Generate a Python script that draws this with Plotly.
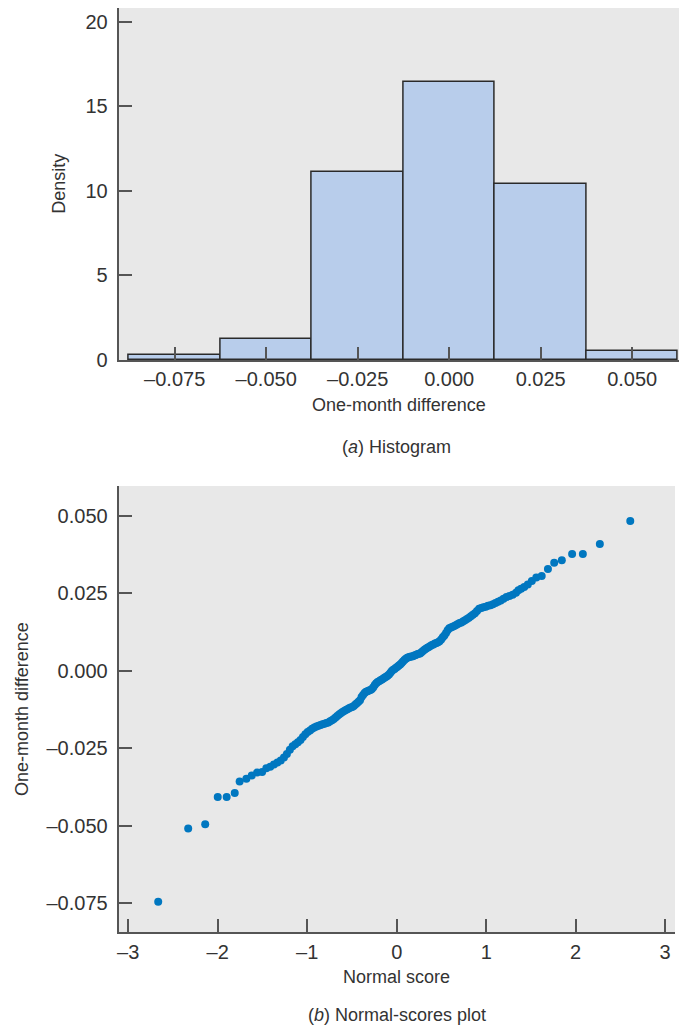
import plotly.graph_objects as go

# ---------------- data ----------------
# (a) histogram: bin centres, bin width and density heights
bin_centers = [-0.075, -0.050, -0.025, 0.000, 0.025, 0.050]
bin_width = 0.025
density = [0.27, 1.26, 11.08, 16.4, 10.4, 0.55]

hist_xtick_vals = [-0.075, -0.050, -0.025, 0.000, 0.025, 0.050]
hist_xtick_text = ["–0.075", "–0.050", "–0.025", "0.000", "0.025", "0.050"]
hist_ytick_vals = [0, 5, 10, 15, 20]

# (b) normal-scores plot: normal score (x) and sorted one-month difference (y)
normal_scores = [
    -2.665, -2.33, -2.14, -2.00, -1.90, -1.81, -1.755, -1.68, -1.62, -1.56,
    -1.504, -1.457, -1.413, -1.372, -1.333, -1.296, -1.260, -1.227, -1.194, -1.163,
    -1.133, -1.104, -1.075, -1.048, -1.021, -0.995, -0.969, -0.945, -0.921, -0.897,
    -0.874, -0.851, -0.829, -0.807, -0.785, -0.764, -0.744, -0.723, -0.703, -0.683,
    -0.664, -0.644, -0.625, -0.606, -0.587, -0.569, -0.551, -0.533, -0.515, -0.497,
    -0.479, -0.462, -0.445, -0.427, -0.410, -0.393, -0.376, -0.359, -0.343, -0.326,
    -0.310, -0.293, -0.277, -0.261, -0.245, -0.229, -0.213, -0.197, -0.181, -0.165,
    -0.149, -0.133, -0.118, -0.102, -0.086, -0.070, -0.055, -0.039, -0.024, -0.008,
    0.008, 0.024, 0.039, 0.055, 0.070, 0.086, 0.102, 0.118, 0.133, 0.149,
    0.165, 0.181, 0.197, 0.213, 0.229, 0.245, 0.261, 0.277, 0.293, 0.310,
    0.326, 0.343, 0.359, 0.376, 0.393, 0.410, 0.427, 0.445, 0.462, 0.479,
    0.497, 0.515, 0.533, 0.551, 0.569, 0.587, 0.606, 0.625, 0.644, 0.664,
    0.683, 0.703, 0.723, 0.744, 0.764, 0.785, 0.807, 0.829, 0.851, 0.874,
    0.897, 0.921, 0.945, 0.969, 0.995, 1.021, 1.048, 1.075, 1.104, 1.133,
    1.163, 1.194, 1.227, 1.260, 1.296, 1.333, 1.36, 1.39, 1.425, 1.465,
    1.51, 1.56, 1.62, 1.69, 1.76, 1.845, 1.96, 2.08, 2.27, 2.61,
]
differences = [
    -0.0746, -0.0510, -0.0496, -0.0408, -0.0408, -0.0395, -0.0358, -0.0349, -0.0338, -0.0329,
    -0.0327, -0.0315, -0.0310, -0.0303, -0.0296, -0.0290, -0.0280, -0.0269, -0.0255, -0.0244,
    -0.0237, -0.0231, -0.0224, -0.0214, -0.0205, -0.0198, -0.0193, -0.0187, -0.0183, -0.0180,
    -0.0178, -0.0175, -0.0173, -0.0171, -0.0169, -0.0167, -0.0163, -0.0160, -0.0156, -0.0151,
    -0.0146, -0.0141, -0.0137, -0.0133, -0.0130, -0.0127, -0.0124, -0.0121, -0.0119, -0.0117,
    -0.0114, -0.0109, -0.0105, -0.0100, -0.0095, -0.0085, -0.0078, -0.0072, -0.0068, -0.0066,
    -0.0064, -0.0062, -0.0059, -0.0053, -0.0046, -0.0040, -0.0036, -0.0034, -0.0031, -0.0028,
    -0.0025, -0.0022, -0.0019, -0.0016, -0.0012, -0.0006, -0.0001, 0.0003, 0.0006, 0.0010,
    0.0013, 0.0017, 0.0020, 0.0025, 0.0030, 0.0035, 0.0039, 0.0042, 0.0044, 0.0045,
    0.0046, 0.0047, 0.0049, 0.0051, 0.0053, 0.0055, 0.0056, 0.0060, 0.0064, 0.0068,
    0.0071, 0.0074, 0.0077, 0.0080, 0.0083, 0.0085, 0.0088, 0.0090, 0.0092, 0.0095,
    0.0101, 0.0108, 0.0114, 0.0122, 0.0131, 0.0137, 0.0140, 0.0142, 0.0145, 0.0148,
    0.0151, 0.0154, 0.0156, 0.0160, 0.0163, 0.0167, 0.0171, 0.0176, 0.0181, 0.0186,
    0.0193, 0.0200, 0.0203, 0.0205, 0.0207, 0.0210, 0.0212, 0.0215, 0.0219, 0.0223,
    0.0227, 0.0233, 0.0238, 0.0242, 0.0246, 0.0252, 0.0260, 0.0265, 0.0271, 0.0279,
    0.0290, 0.0301, 0.0306, 0.0329, 0.0349, 0.0357, 0.0377, 0.0377, 0.0410, 0.0484,
]

qq_xtick_vals = [-3, -2, -1, 0, 1, 2, 3]
qq_xtick_text = ["–3", "–2", "–1", "0", "1", "2", "3"]
qq_ytick_vals = [-0.075, -0.050, -0.025, 0.000, 0.025, 0.050]
qq_ytick_text = ["–0.075", "–0.050", "–0.025", "0.000", "0.025", "0.050"]

# ---------------- styling ----------------
FONT = "Liberation Sans, Arial, Helvetica, sans-serif"
TEXT = "#333333"
AXIS = "#555555"
BG = "#E8E8E8"

W, H = 681, 1037
REF_W, REF_H = 681, 1026


def px(x):
    return x / REF_W


def py(y):
    return 1 - y / REF_H


fig = go.Figure()
fig.add_trace(go.Bar(
    x=bin_centers, y=density, width=[bin_width] * len(bin_centers),
    marker=dict(color="#B8CDEB", line=dict(color="#2a2a2a", width=1.5)),
    xaxis="x", yaxis="y", showlegend=False,
))
fig.add_trace(go.Scatter(
    x=normal_scores, y=differences, mode="markers",
    marker=dict(color="#0077C0", size=8),
    xaxis="x2", yaxis="y2", showlegend=False,
))

common = dict(
    showline=True, linecolor=AXIS, linewidth=2,
    ticks="inside", ticklen=13, tickwidth=1.5, tickcolor=AXIS,
    showgrid=False, zeroline=False,
    tickfont=dict(family=FONT, size=20, color=TEXT),
)

fig.update_layout(
    width=W, height=H,
    margin=dict(l=0, r=0, t=0, b=0),
    paper_bgcolor="white", plot_bgcolor=BG,
    font=dict(family=FONT, size=18, color=TEXT),
    bargap=0,
    xaxis=dict(domain=[px(117), px(679)], range=[-0.0903, 0.0628], anchor="y",
               tickvals=hist_xtick_vals, ticktext=hist_xtick_text,
               ticklabelstandoff=0, **common),
    yaxis=dict(domain=[py(360), py(8)], range=[0, 20.8], anchor="x",
               tickvals=hist_ytick_vals, ticklabelstandoff=5, **common),
    xaxis2=dict(domain=[px(117), px(675)], range=[-3.107, 3.11], anchor="y2",
                tickvals=qq_xtick_vals, ticktext=qq_xtick_text,
                ticklabelstandoff=1, **common),
    yaxis2=dict(domain=[py(932), py(486)], range=[-0.0844, 0.0597], anchor="x2",
                tickvals=qq_ytick_vals, ticktext=qq_ytick_text,
                ticklabelstandoff=5, **common),
)


def label(text, x, y, angle=0):
    fig.add_annotation(text=text, x=px(x), y=py(y), xref="paper", yref="paper",
                       showarrow=False, textangle=angle, xanchor="center", yanchor="middle",
                       font=dict(family=FONT, size=18, color=TEXT))


label("One-month difference", 398, 405)
label("Density", 57, 184, -90)
label("(<i>a</i>) Histogram", 396, 447)
label("Normal score", 396, 977)
label("One-month difference", 20, 709, -90)
label("(<i>b</i>) Normal-scores plot", 396, 1015)

fig.write_html(
    "out.html",
    config={"displayModeBar": False},
    post_script="document.body.style.margin='0';document.body.style.overflow='hidden';",
)
